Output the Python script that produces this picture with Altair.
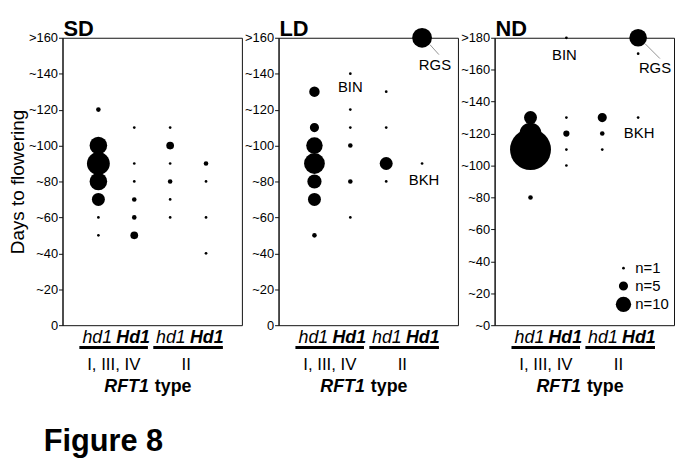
import altair as alt
import pandas as pd

# ---------------- data ----------------
panels = ["SD", "LD", "ND"]
y_max = {"SD": 160, "LD": 160, "ND": 180}
# column: 1 = hd1 (I, III, IV), 2 = Hd1 (I, III, IV), 3 = hd1 (II), 4 = Hd1 (II)
sd_col = [1, 1, 1, 1, 1, 1, 1, 2, 2, 2, 2, 2, 2, 3, 3, 3, 3, 3, 3, 4, 4, 4, 4]
sd_days = [120, 100, 90, 80, 70, 60, 50, 110, 90, 80, 70, 60, 50, 110, 100, 90, 80, 70, 60, 90, 80, 60, 40]
sd_n = [2, 12, 17, 12, 8, 1, 1, 1, 1, 1, 2, 2, 4, 1, 4, 1, 2, 1, 1, 2, 1, 1, 1]

ld_col = [1, 1, 1, 1, 1, 1, 1, 2, 2, 2, 2, 2, 2, 3, 3, 3, 3, 4, 4]
ld_days = [130, 110, 100, 90, 80, 70, 50, 140, 120, 110, 100, 80, 60, 130, 110, 90, 80, 160, 90]
ld_n = [6, 5, 11, 15, 9, 8, 2, 1, 1, 1, 2, 2, 1, 1, 1, 8, 1, 14, 1]

nd_col = [1, 1, 1, 1, 1, 2, 2, 2, 2, 2, 3, 3, 3, 4, 4, 4]
nd_days = [130, 120, 110, 100, 80, 180, 130, 120, 110, 100, 130, 120, 110, 180, 170, 130]
nd_n = [8, 16, 37, 2, 2, 1, 1, 3, 1, 1, 5, 2, 1, 12, 1, 1]

ann_panel = ["LD", "LD", "LD", "ND", "ND", "ND"]
ann_label = ["BIN", "RGS", "BKH", "BIN", "RGS", "BKH"]
ann_col = [2, 4, 4, 2, 4, 4]
ann_days = [140, 160, 90, 180, 180, 130]

geno_labels = ["hd1", "Hd1", "hd1", "Hd1"]
type_labels = ["I, III, IV", "II"]
legend_values = [1, 5, 10]

series = {
    "SD": (sd_col, sd_days, sd_n),
    "LD": (ld_col, ld_days, ld_n),
    "ND": (nd_col, nd_days, nd_n),
}

# ---------------- layout / style ----------------
W, H = 181, 290
FONT = "Liberation Sans"
geno_pos = [0.97, 1.97, 3.02, 4.02]
type_pos = [1.43, 3.45]
line_from = [0.47, 2.53]
line_to = [2.38, 4.47]
rft_pos = 2.49
label_off = {  # (dx, dy) of annotation labels relative to their point
    ("LD", "BIN"): (0, 13), ("LD", "RGS"): (13, 28), ("LD", "BKH"): (2, 17),
    ("ND", "BIN"): (-2, 17), ("ND", "RGS"): (17, 31), ("ND", "BKH"): (1, 16),
}
leader = {"LD": (8, 7, 17, 17), "ND": (7, 6, 22, 21)}


def make_panel(name, first, last):
    col, days, n = series[name]
    ymax = y_max[name]
    df = pd.DataFrame({"col": col, "days": days, "n": n})
    xenc = alt.X("col:Q", scale=alt.Scale(domain=[0, 5]), axis=None)
    if ymax == 180:
        lab = "datum.value == 180 ? '>180' : '~' + datum.label"
    else:
        lab = "datum.value == 160 ? '>160' : (datum.value == 0 ? '0' : '~' + datum.label)"
    yaxis = alt.Axis(values=list(range(0, ymax + 1, 20)), labelExpr=lab,
                     labelOverlap=False,
                     title="Days to flowering" if first else None,
                     titleFontSize=19, titleFontWeight="normal", titlePadding=1)
    yenc = alt.Y("days:Q", scale=alt.Scale(domain=[0, ymax]), axis=yaxis)

    size_scale = alt.Scale(type="pow", exponent=1.5, domain=[0, 10], range=[0, 240])
    if last:
        leg = alt.Legend(values=legend_values, title=None, labelExpr="'n=' + datum.label",
                         orient="none", legendX=122, legendY=225)
    else:
        leg = None
    pts = alt.Chart(df).mark_circle(color="black", opacity=1, clip=False).encode(
        x=xenc, y=yenc,
        size=alt.Size("n:Q", scale=size_scale, legend=leg)
    )
    layers = [pts]

    # panel title
    layers.append(alt.Chart(pd.DataFrame({"t": [name]})).mark_text(
        align="left", baseline="alphabetic", fontSize=22, fontWeight="bold", dx=1
    ).encode(text="t:N", x=alt.value(0), y=alt.value(-2)))

    # genotype labels
    gdf = pd.DataFrame({"col": geno_pos, "t": geno_labels})
    for i, w in [(0, "normal"), (1, "bold")]:
        layers.append(alt.Chart(gdf.iloc[i::2]).mark_text(
            fontSize=18, fontStyle="italic", fontWeight=w, baseline="alphabetic"
        ).encode(x=xenc, y=alt.value(H + 18), text="t:N"))
    ldf = pd.DataFrame({"col": line_from, "col2": line_to})
    layers.append(alt.Chart(ldf).mark_rule(strokeWidth=3, color="black").encode(
        x=xenc, x2="col2:Q", y=alt.value(H + 22.5)))
    tdf = pd.DataFrame({"col": type_pos, "t": type_labels})
    layers.append(alt.Chart(tdf).mark_text(fontSize=17, baseline="alphabetic").encode(
        x=xenc, y=alt.value(H + 45), text="t:N"))
    rdf = pd.DataFrame({"col": [rft_pos], "a": ["RFT1"], "b": ["type"]})
    layers.append(alt.Chart(rdf).mark_text(
        fontSize=18, fontStyle="italic", fontWeight="bold", align="right", baseline="alphabetic", dx=-3
    ).encode(x=xenc, y=alt.value(H + 67), text="a:N"))
    layers.append(alt.Chart(rdf).mark_text(
        fontSize=18, fontWeight="bold", align="left", baseline="alphabetic", dx=3
    ).encode(x=xenc, y=alt.value(H + 67), text="b:N"))

    # annotations
    for p, lbl, c, d in zip(ann_panel, ann_label, ann_col, ann_days):
        if p != name:
            continue
        dx, dy = label_off[(p, lbl)]
        adf = pd.DataFrame({"col": [c], "days": [d], "t": [lbl]})
        layers.append(alt.Chart(adf).mark_text(
            fontSize=15, dx=dx, dy=dy, baseline="middle", clip=False
        ).encode(x=xenc, y=yenc, text="t:N"))
        if lbl == "RGS":
            a, b, c2, d2 = leader[p]
            layers.append(alt.Chart(adf).mark_rule(
                color="#777", strokeWidth=0.8, xOffset=a, yOffset=b, x2Offset=c2, y2Offset=d2
            ).encode(x=xenc, x2="col:Q", y=yenc, y2="days:Q"))

    if first:
        layers.append(alt.Chart(pd.DataFrame({"t": ["Figure 8"]})).mark_text(
            align="left", baseline="alphabetic", fontSize=31, fontWeight="bold"
        ).encode(text="t:N", x=alt.value(-19), y=alt.value(H + 127)))

    return alt.layer(*layers).properties(width=W, height=H)


chart = alt.hconcat(
    *[make_panel(p, i == 0, i == 2) for i, p in enumerate(panels)], spacing=1
).resolve_scale(size="independent").resolve_legend(size="independent").properties(
    padding={"left": 0, "top": 7, "right": 0, "bottom": 0}
).configure(font=FONT).configure_view(
    stroke="#111", strokeWidth=1
).configure_axis(
    domainColor="#111", tickColor="#111", labelColor="black", titleColor="black",
    labelFontSize=13, tickSize=4, labelPadding=1, grid=False, labelFont=FONT
).configure_legend(
    symbolType="circle",
    symbolFillColor="black", symbolStrokeWidth=0, symbolOpacity=1,
    labelFontSize=15, labelOffset=4, rowPadding=2,
    labelColor="black"
)

chart.save("out.html", embed_options={"renderer": "svg", "actions": False})
